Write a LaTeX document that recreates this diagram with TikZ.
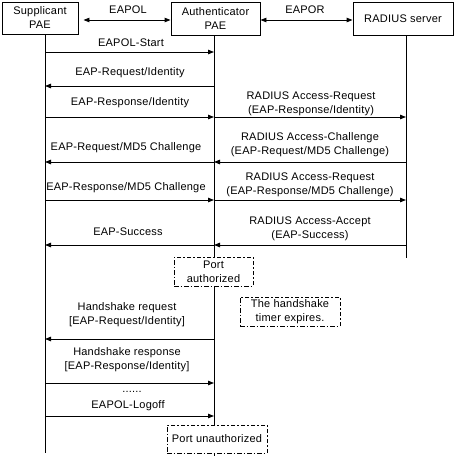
\documentclass[tikz,border=0pt]{standalone}
\usepackage{fontspec}
\setmainfont{Liberation Sans}[LetterSpace=2]
\usetikzlibrary{arrows.meta}
\begin{document}
\begin{tikzpicture}[x=1pt,y=-1pt,
  font=\fontsize{11}{14}\selectfont,
  every node/.style={inner sep=0pt, align=center},
  entity/.style={draw, line width=0.9pt, fill=white},
  note/.style={draw, line width=0.9pt, fill=white, dash pattern=on 4.5pt off 2pt on 1.5pt off 2pt},
  life/.style={line width=0.9pt},
  msg/.style={line width=0.9pt, -{Triangle[length=6pt,width=4.5pt]}},
  dbl/.style={line width=0.9pt, {Triangle[length=6pt,width=4.5pt]}-{Triangle[length=6pt,width=4.5pt]}},
  lbl/.style={anchor=center}]
\useasboundingbox (0,0) rectangle (456,458);
% entities
\node[entity, minimum width=76pt, minimum height=32pt] (sup) at (40,18) {Supplicant\\PAE};
\node[entity, minimum width=89pt, minimum height=33pt] (auth) at (215.5,18.5) {Authenticator\\PAE};
\node[entity, minimum width=100pt, minimum height=33pt] (rad) at (403,18.5) {RADIUS server};
% lifeline anchors
\coordinate (sL) at (45,34);
\coordinate (aL) at (214,35);
\coordinate (rL) at (406,35);
\coordinate (sE) at (45,453);
\coordinate (aE) at (214,456);
\coordinate (rE) at (406,258);
\draw[life] (sL) -- (sE);
\draw[life] (aL) -- (aE);
\draw[life] (rL) -- (rE);
% top links
\draw[dbl] ([xshift=5pt]sup.east |- 0,20) -- (auth.west |- 0,20);
\node (eapol) at (128,10) {EAPOL};
\draw[dbl] (auth.east |- 0,20) -- (rad.west |- 0,20);
\node (eapor) at (305,10) {EAPOR};
% messages
\node[lbl] (m1) at (131,43) {EAPOL-Start};
\draw[msg] (sL |- 0,52) -- (aL |- 0,52);
\node[lbl] (m2) at (130,73) {EAP-Request/Identity};
\draw[msg] (aL |- 0,86) -- (sL |- 0,86);
\node[lbl] (m3) at (130,103) {EAP-Response/Identity};
\draw[msg] (sL |- 0,117) -- (aL |- 0,117);
\node[lbl] (r3) at (311,103.5) {RADIUS Access-Request\\(EAP-Response/Identity)};
\draw[msg] (aL |- 0,117) -- (rL |- 0,117);
\node[lbl] (m4) at (126,148) {EAP-Request/MD5 Challenge};
\draw[msg] (aL |- 0,162) -- (sL |- 0,162);
\node[lbl] (r4) at (310,144.5) {RADIUS Access-Challenge\\(EAP-Request/MD5 Challenge)};
\draw[msg] (rL |- 0,162) -- (aL |- 0,162);
\node[lbl] (m5) at (126,188) {EAP-Response/MD5 Challenge};
\draw[msg] (sL |- 0,200) -- (aL |- 0,200);
\node[lbl] (r5) at (310,185) {RADIUS Access-Request\\(EAP-Response/MD5 Challenge)};
\draw[msg] (aL |- 0,200) -- (rL |- 0,200);
\node[lbl] (m6) at (128,232) {EAP-Success};
\draw[msg] (aL |- 0,245) -- (sL |- 0,245);
\node[lbl] (r6) at (310,228.5) {RADIUS Access-Accept\\(EAP-Success)};
\draw[msg] (rL |- 0,245) -- (aL |- 0,245);
% notes
\node[note, minimum width=79pt, minimum height=29pt] (pa) at (213.5,271.5) {Port\\authorized};
\node[note, minimum width=100pt, minimum height=29pt] (timer) at (290,311.5) {The handshake\\timer expires.};
\node[lbl] (h1) at (127,315) {Handshake request\\{[}EAP-Request/Identity{]}};
\draw[msg] (aL |- 0,339) -- (sL |- 0,339);
\node[lbl] (h2) at (127,360) {Handshake response\\{[}EAP-Response/Identity{]}};
\draw[msg] (sL |- 0,383) -- (aL |- 0,383);
\node[lbl] (dots) at (132,392) {......};
\node[lbl] (m7) at (128,406) {EAPOL-Logoff};
\draw[msg] (sL |- 0,416) -- (aL |- 0,416);
\node[note, minimum width=100pt, minimum height=28pt] (pu) at (217,439) {Port unauthorized};
\end{tikzpicture}
\end{document}
